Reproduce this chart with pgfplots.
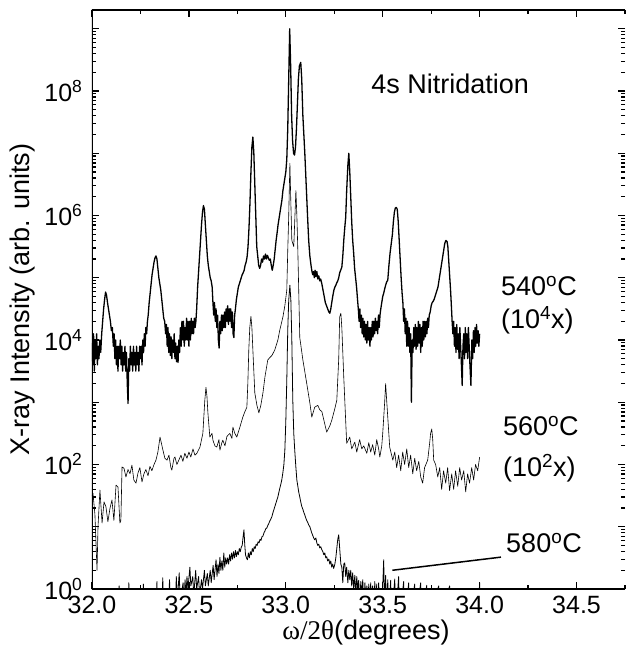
\documentclass[border=0pt]{standalone}
\usepackage{fontspec}
\setmainfont{Liberation Sans}
\newfontfamily\serifgr{Liberation Serif}
\usepackage{pgfplots}
\usepackage{pgfplotstable}
\pgfplotsset{compat=1.18}

% columns: x = omega/2theta (deg), L = log10(intensity)
\pgfplotstableread{
x L
32.000 3.95
32.004 3.6
32.008 4.1
32.012 3.5
32.016 4.0
32.020 3.7
32.024 4.1
32.028 3.6
32.032 3.9
32.036 3.7
32.040 4.0
32.045 3.8
32.050 4.1
32.055 4.3
32.060 4.5
32.065 4.65
32.070 4.77
32.075 4.72
32.080 4.6
32.085 4.5
32.090 4.4
32.095 4.3
32.100 4.15
32.105 4.2
32.110 3.9
32.114 4.1
32.118 3.7
32.122 4.0
32.126 3.6
32.130 3.9
32.134 3.5
32.138 3.9
32.142 3.7
32.146 4.0
32.150 3.6
32.154 3.9
32.158 3.5
32.162 3.8
32.166 3.6
32.170 3.9
32.174 3.5
32.178 3.8
32.182 3.3
32.186 2.98
32.190 3.7
32.194 3.5
32.198 3.9
32.202 3.6
32.206 3.8
32.210 3.5
32.214 3.9
32.218 3.6
32.222 3.8
32.226 3.5
32.230 3.9
32.234 3.6
32.238 3.8
32.242 3.5
32.246 3.9
32.250 3.7
32.254 3.9
32.258 3.6
32.262 4.0
32.266 3.8
32.270 4.1
32.274 3.9
32.278 4.2
32.282 4.1
32.286 4.3
32.290 4.4
32.295 4.6
32.300 4.75
32.305 4.9
32.310 5.05
32.315 5.15
32.320 5.25
32.325 5.32
32.330 5.35
32.335 5.3
32.340 5.15
32.345 5.0
32.350 4.9
32.355 4.8
32.360 4.65
32.365 4.5
32.370 4.35
32.375 4.3
32.380 4.1
32.384 4.25
32.388 3.9
32.392 4.2
32.396 3.8
32.400 4.1
32.404 3.75
32.408 4.05
32.412 3.7
32.416 4.0
32.420 3.8
32.424 4.1
32.428 3.7
32.432 3.95
32.436 3.65
32.440 3.9
32.444 3.64
32.448 4.0
32.452 3.8
32.456 4.2
32.460 3.9
32.464 4.3
32.468 4.0
32.472 4.3
32.476 3.9
32.480 4.2
32.484 4.0
32.488 4.35
32.492 4.0
32.496 4.3
32.500 3.9
32.504 4.3
32.508 4.0
32.512 4.35
32.516 4.1
32.520 4.3
32.524 4.1
32.528 4.35
32.532 4.2
32.536 4.3
32.540 4.5
32.545 4.85
32.550 5.1
32.555 5.35
32.560 5.6
32.565 5.85
32.570 6.05
32.575 6.16
32.580 6.1
32.585 5.85
32.590 5.6
32.595 5.35
32.600 5.2
32.605 5.1
32.610 5.0
32.615 4.95
32.620 4.85
32.624 4.6
32.628 4.4
32.632 4.6
32.636 4.3
32.640 4.5
32.644 4.2
32.648 4.4
32.652 4.0
32.656 3.87
32.660 4.3
32.664 4.1
32.668 4.4
32.672 4.15
32.676 4.4
32.680 4.2
32.684 4.45
32.688 4.2
32.692 4.5
32.696 4.3
32.700 4.55
32.704 4.25
32.708 4.5
32.712 4.3
32.716 4.5
32.720 4.2
32.724 4.45
32.728 4.1
32.732 4.04
32.736 4.4
32.740 4.5
32.745 4.65
32.750 4.75
32.755 4.85
32.760 4.9
32.765 4.95
32.770 5.0
32.775 5.05
32.780 5.08
32.785 5.12
32.790 5.2
32.795 5.25
32.800 5.33
32.805 5.5
32.810 5.8
32.815 6.2
32.820 6.7
32.825 7.1
32.830 7.26
32.835 7.0
32.840 6.5
32.845 6.0
32.850 5.5
32.855 5.35
32.860 5.2
32.865 5.15
32.870 5.2
32.875 5.3
32.880 5.25
32.885 5.35
32.890 5.3
32.895 5.38
32.900 5.3
32.905 5.36
32.910 5.32
32.915 5.28
32.920 5.3
32.925 5.2
32.930 5.12
32.935 5.2
32.940 5.3
32.945 5.45
32.950 5.6
32.955 5.72
32.960 5.85
32.965 5.95
32.970 6.05
32.975 6.15
32.980 6.25
32.985 6.4
32.990 6.5
32.995 6.6
33.000 6.7
33.005 6.9
33.010 7.4
33.015 8.2
33.020 9.0
33.025 8.4
33.030 7.6
33.035 7.2
33.040 7.0
33.045 6.97
33.050 7.1
33.055 7.4
33.060 7.8
33.065 8.2
33.070 8.4
33.077 8.46
33.082 8.2
33.088 7.6
33.093 7.3
33.098 7.0
33.105 6.5
33.112 6.0
33.118 5.6
33.124 5.35
33.130 5.2
33.135 5.1
33.139 5.05
33.143 5.1
33.147 5.0
33.151 5.12
33.155 5.02
33.160 5.1
33.165 4.98
33.170 5.03
33.175 4.95
33.180 4.98
33.186 4.9
33.192 4.8
33.198 4.7
33.204 4.6
33.210 4.55
33.216 4.5
33.222 4.45
33.227 4.43
33.232 4.5
33.237 4.6
33.242 4.7
33.248 4.8
33.253 4.85
33.258 4.88
33.263 4.92
33.268 4.95
33.273 5.0
33.278 5.08
33.283 5.12
33.289 5.17
33.294 5.35
33.299 5.6
33.304 5.8
33.309 5.97
33.314 6.4
33.320 6.8
33.325 7.0
33.330 6.7
33.335 6.3
33.340 5.9
33.345 5.6
33.350 5.4
33.355 5.15
33.360 5.0
33.365 4.85
33.370 4.65
33.374 4.5
33.378 4.3
33.382 4.5
33.386 4.2
33.390 4.4
33.394 4.1
33.398 4.35
33.402 4.05
33.406 4.3
33.410 4.0
33.414 4.25
33.418 3.95
33.422 4.3
33.426 4.0
33.430 4.2
33.434 3.9
33.438 4.2
33.442 4.0
33.446 4.3
33.450 4.05
33.454 4.3
33.458 4.1
33.462 4.35
33.466 4.15
33.470 4.3
33.474 4.1
33.478 4.4
33.482 4.2
33.486 4.4
33.490 4.5
33.495 4.6
33.500 4.7
33.505 4.75
33.510 4.82
33.515 4.88
33.520 4.93
33.526 4.96
33.532 5.2
33.538 5.4
33.544 5.55
33.550 5.7
33.555 5.9
33.560 6.05
33.565 6.12
33.570 6.13
33.575 6.1
33.580 5.9
33.585 5.6
33.590 5.3
33.595 5.0
33.600 4.75
33.604 4.6
33.608 4.3
33.612 4.5
33.616 4.1
33.620 4.35
33.624 3.9
33.628 4.3
33.632 3.9
33.636 4.2
33.640 3.8
33.644 4.1
33.648 3.0
33.652 4.0
33.656 3.8
33.660 4.2
33.664 3.9
33.668 4.25
33.672 3.85
33.676 4.2
33.680 3.9
33.684 4.3
33.688 3.95
33.692 4.25
33.696 3.8
33.700 4.2
33.704 3.9
33.708 4.3
33.712 4.0
33.716 4.3
33.720 4.05
33.724 4.3
33.728 4.1
33.732 4.35
33.736 4.2
33.740 4.4
33.745 4.45
33.750 4.55
33.755 4.6
33.760 4.62
33.765 4.65
33.770 4.7
33.775 4.75
33.780 4.8
33.785 4.85
33.790 4.95
33.795 5.05
33.800 5.15
33.805 5.25
33.810 5.35
33.815 5.45
33.820 5.55
33.826 5.6
33.832 5.58
33.836 5.5
33.840 5.3
33.845 5.05
33.850 4.8
33.855 4.5
33.858 4.3
33.862 4.1
33.866 4.3
33.870 3.9
33.874 4.2
33.878 3.8
33.882 4.25
33.886 3.85
33.890 4.1
33.894 3.7
33.898 4.2
33.902 3.9
33.906 3.6
33.910 3.27
33.914 3.9
33.918 4.1
33.922 3.7
33.926 4.2
33.930 3.8
33.934 4.1
33.938 3.7
33.942 4.2
33.946 3.9
33.950 3.6
33.955 3.27
33.960 4.0
33.964 3.7
33.968 4.15
33.972 3.8
33.976 4.2
33.980 3.9
33.984 4.25
33.988 3.95
33.992 4.15
33.996 3.9
34.000 4.1
}\datafivefourty

\pgfplotstableread{
x L
32.000 1.5
32.005 1.54
32.015 1.2
32.026 0.3
32.031 1.0
32.041 1.59
32.052 1.06
32.062 1.4
32.072 1.32
32.082 1.08
32.093 1.3
32.103 1.43
32.113 1.1
32.124 1.67
32.134 1.64
32.144 1.06
32.149 1.1
32.155 1.96
32.165 1.94
32.175 1.8
32.186 1.92
32.196 1.85
32.206 1.99
32.216 1.75
32.227 1.70
32.237 1.86
32.247 1.95
32.258 1.72
32.268 1.85
32.278 1.92
32.289 1.82
32.299 1.97
32.309 1.9
32.320 2.0
32.330 2.07
32.340 2.2
32.351 2.44
32.361 2.3
32.366 2.23
32.376 2.1
32.387 2.07
32.397 2.15
32.407 1.95
32.412 1.91
32.423 2.1
32.428 2.12
32.438 2.0
32.448 2.07
32.459 2.15
32.469 2.05
32.479 2.18
32.490 2.1
32.500 2.2
32.510 2.12
32.521 2.25
32.531 2.15
32.541 2.18
32.557 2.28
32.572 2.5
32.582 3.03
32.588 3.24
32.593 3.1
32.598 2.83
32.608 2.44
32.619 2.5
32.624 2.39
32.634 2.3
32.644 2.28
32.655 2.4
32.660 2.23
32.670 2.35
32.675 2.39
32.686 2.3
32.696 2.45
32.711 2.5
32.722 2.42
32.727 2.6
32.737 2.5
32.747 2.44
32.763 2.6
32.778 2.76
32.789 2.85
32.799 2.92
32.804 3.3
32.809 3.84
32.814 4.2
32.820 4.38
32.825 4.2
32.830 3.84
32.840 3.15
32.851 2.95
32.861 2.83
32.871 2.95
32.882 3.15
32.892 3.4
32.907 3.68
32.918 3.72
32.928 3.75
32.943 3.84
32.959 4.0
32.969 4.16
32.985 4.37
32.995 4.55
33.005 4.8
33.010 5.44
33.015 6.0
33.021 6.84
33.026 6.2
33.031 5.6
33.041 5.5
33.052 6.4
33.057 6.0
33.062 5.44
33.072 4.04
33.088 3.68
33.108 3.3
33.124 2.99
33.134 2.76
33.149 2.92
33.165 2.95
33.175 2.88
33.186 2.85
33.201 2.65
33.211 2.52
33.227 2.62
33.237 2.71
33.253 2.9
33.263 3.03
33.273 3.7
33.278 4.37
33.284 4.43
33.289 4.2
33.299 3.4
33.314 2.34
33.330 2.44
33.340 2.25
33.356 2.36
33.366 2.2
33.381 2.4
33.392 2.25
33.402 2.3
33.418 2.18
33.428 2.35
33.438 2.2
33.448 2.32
33.459 2.15
33.469 2.4
33.479 2.25
33.485 2.12
33.495 2.3
33.500 2.5
33.510 3.0
33.515 3.3
33.521 3.0
33.526 2.76
33.536 2.28
33.552 2.07
33.562 2.2
33.572 1.95
33.582 2.15
33.593 1.9
33.603 2.2
33.613 2.0
33.624 2.25
33.634 1.95
33.644 2.15
33.655 1.85
33.665 2.1
33.675 1.9
33.686 2.05
33.696 1.8
33.706 1.7
33.716 1.95
33.732 2.07
33.742 2.34
33.747 2.5
33.753 2.57
33.758 2.4
33.763 2.07
33.773 2.0
33.784 1.8
33.794 1.95
33.804 1.6
33.814 1.9
33.825 1.7
33.835 1.95
33.845 1.58
33.856 1.85
33.866 1.6
33.876 1.9
33.887 1.65
33.897 1.95
33.907 1.75
33.918 1.9
33.928 1.56
33.938 1.85
33.948 1.7
33.959 1.95
33.969 1.75
33.979 2.0
33.990 1.9
34.000 2.12
}\datafivesixty

\pgfplotstableread{
x L
32.000 -0.5
32.130 -0.5
32.140 0.05
32.145 -0.5
32.185 -0.5
32.190 0.1
32.195 -0.5
32.260 -0.5
32.265 0.08
32.270 -0.5
32.330 -0.5
32.335 0.12
32.340 -0.5
32.360 -0.5
32.365 0.18
32.370 -0.3
32.395 -0.3
32.400 0.15
32.405 -0.3
32.430 -0.3
32.435 0.2
32.440 -0.2
32.450 0.26
32.455 -0.2
32.470 0.1
32.475 -0.2
32.480 0.15
32.485 -0.1
32.490 0.2
32.495 0.0
32.505 0.35
32.510 0.05
32.520 0.2
32.525 -0.1
32.535 0.3
32.540 0.0
32.550 0.2
32.555 -0.1
32.565 0.15
32.570 0.0
32.580 0.3
32.585 0.05
32.595 0.25
32.600 0.05
32.610 0.3
32.615 0.1
32.625 0.38
32.630 0.15
32.640 0.47
32.645 0.2
32.650 0.4
32.655 0.25
32.660 0.51
32.665 0.3
32.670 0.45
32.675 0.3
32.680 0.58
32.685 0.35
32.690 0.5
32.695 0.4
32.700 0.5
32.705 0.4
32.710 0.55
32.715 0.45
32.720 0.58
32.725 0.48
32.730 0.6
32.735 0.5
32.740 0.62
32.745 0.52
32.750 0.6
32.755 0.55
32.760 0.65
32.765 0.6
32.770 0.67
32.775 0.7
32.780 0.85
32.784 0.95
32.788 0.72
32.792 0.55
32.797 0.5
32.802 0.47
32.807 0.58
32.812 0.5
32.817 0.6
32.822 0.55
32.827 0.65
32.832 0.6
32.837 0.68
32.842 0.65
32.847 0.72
32.852 0.7
32.857 0.76
32.862 0.74
32.867 0.8
32.872 0.78
32.877 0.84
32.882 0.85
32.887 0.9
32.892 0.93
32.897 0.97
32.902 0.98
32.907 1.02
32.912 1.05
32.917 1.09
32.922 1.12
32.928 1.16
32.933 1.22
32.938 1.27
32.943 1.32
32.948 1.37
32.953 1.42
32.959 1.48
32.964 1.55
32.969 1.62
32.974 1.68
32.979 1.75
32.984 1.85
32.990 2.0
32.995 2.23
33.000 2.7
33.005 3.35
33.010 4.16
33.015 4.64
33.021 4.88
33.026 4.64
33.031 4.0
33.036 3.03
33.041 2.5
33.046 2.23
33.052 1.95
33.057 1.75
33.062 1.65
33.067 1.55
33.072 1.48
33.077 1.4
33.082 1.33
33.088 1.28
33.093 1.23
33.098 1.19
33.103 1.14
33.108 1.1
33.113 1.07
33.118 1.03
33.124 1.0
33.129 0.95
33.134 0.9
33.139 0.86
33.144 0.82
33.149 0.79
33.155 0.82
33.160 0.74
33.165 0.7
33.170 0.72
33.175 0.66
33.180 0.68
33.186 0.63
33.191 0.6
33.196 0.55
33.201 0.58
33.206 0.5
33.211 0.52
33.216 0.45
33.222 0.48
33.227 0.4
33.232 0.45
33.237 0.35
33.242 0.4
33.247 0.33
33.253 0.4
33.258 0.5
33.263 0.65
33.268 0.8
33.273 0.87
33.278 0.65
33.284 0.4
33.289 0.35
33.294 0.1
33.299 0.4
33.304 0.42
33.309 0.2
33.314 0.35
33.320 0.1
33.325 0.3
33.330 0.15
33.335 0.3
33.340 0.05
33.345 0.26
33.350 0.0
33.356 0.22
33.361 -0.1
33.366 0.2
33.371 0.0
33.376 0.14
33.381 -0.2
33.387 0.12
33.392 -0.1
33.397 0.15
33.402 -0.3
33.408 0.1
33.413 -0.2
33.418 0.05
33.423 -0.3
33.428 0.08
33.433 -0.3
33.438 0.1
33.443 -0.3
33.448 0.05
33.454 -0.4
33.459 0.12
33.464 -0.3
33.469 0.08
33.474 -0.4
33.479 0.1
33.485 -0.3
33.490 -0.3
33.500 0.05
33.505 0.47
33.510 -0.3
33.515 0.22
33.520 -0.4
33.526 0.15
33.531 -0.4
33.541 0.14
33.546 -0.5
33.562 0.16
33.567 -0.5
33.582 0.2
33.587 -0.5
33.608 0.12
33.613 -0.5
33.634 0.1
33.639 -0.5
33.665 0.08
33.670 -0.5
33.696 0.1
33.701 -0.5
33.727 0.06
33.732 -0.5
33.789 0.05
33.794 -0.5
33.845 0.05
33.850 -0.5
33.990 -0.5
34.000 0.1
34.005 -0.5
}\datafiveeighty

\begin{document}
\begin{tikzpicture}
\useasboundingbox (-92pt,-65pt) rectangle (541pt,589pt);
\begin{axis}[
  at={(0pt,0pt)}, anchor=south west,
  scale only axis, width=533pt, height=579pt,
  xmin=32, xmax=34.75,
  ymode=log, ymin=1, ymax=2e9,
  axis line style={draw=none},
  tick align=inside,
  xtick={32,32.5,33,33.5,34,34.5},
  xticklabels={32.0,32.5,33.0,33.5,34.0,34.5},
  minor xtick={32.25,32.75,33.25,33.75,34.25,34.75},
  ytick={1,1e1,1e2,1e3,1e4,1e5,1e6,1e7,1e8,1e9},
  yticklabels={10\textsuperscript{0},,10\textsuperscript{2},,10\textsuperscript{4},,10\textsuperscript{6},,10\textsuperscript{8},},
  minor ytick={2,3,4,5,6,7,8,9,20,30,40,50,60,70,80,90,200,300,400,500,600,700,800,900,2e3,3e3,4e3,5e3,6e3,7e3,8e3,9e3,2e4,3e4,4e4,5e4,6e4,7e4,8e4,9e4,2e5,3e5,4e5,5e5,6e5,7e5,8e5,9e5,2e6,3e6,4e6,5e6,6e6,7e6,8e6,9e6,2e7,3e7,4e7,5e7,6e7,7e7,8e7,9e7,2e8,3e8,4e8,5e8,6e8,7e8,8e8,9e8},
  major tick length=7pt, minor tick length=4pt,
  every tick/.style={black, line width=1.3pt},
  tick label style={font=\fontsize{25}{30}\selectfont},
  yticklabel style={xshift=-6pt},
  xticklabel style={yshift=-4pt},
  xlabel={{\serifgr ω/2θ}(degrees)},
  ylabel={X-ray Intensity (arb. units)},
  label style={font=\fontsize{27}{32}\selectfont},
  xlabel style={at={(axis description cs:0.514,-0.088)}, anchor=base},
  ylabel style={at={(axis description cs:-0.131,0.5)}, anchor=center},
]
\addplot[black, line width=1.3pt, line join=round] table[x=x, y expr=10^\thisrow{L}] {\datafivefourty};
\addplot[black, line width=0.6pt, line join=round] table[x=x, y expr=10^\thisrow{L}] {\datafivesixty};
\addplot[black, line width=0.8pt, line join=round] table[x=x, y expr=10^\thisrow{L}] {\datafiveeighty};
\draw[line width=1.8pt] (rel axis cs:1,1) -- (rel axis cs:0,1) -- (rel axis cs:0,0) -- (rel axis cs:1,0);
\draw[line width=1.5pt] (axis cs:33.55,2.0) -- (axis cs:34.11,3.25);
\node[anchor=base west, font=\fontsize{27}{32}\selectfont] at (axis cs:33.423,9.1e7) {4s Nitridation};
\node[anchor=base west, font=\fontsize{27}{32}\selectfont] at (axis cs:34.093,5.2e4) {540\textsuperscript{o}C};
\node[anchor=base west, font=\fontsize{27}{32}\selectfont] at (axis cs:34.093,1.55e4) {(10\textsuperscript{4}x)};
\node[anchor=base west, font=\fontsize{27}{32}\selectfont] at (axis cs:34.103,295) {560\textsuperscript{o}C};
\node[anchor=base west, font=\fontsize{27}{32}\selectfont] at (axis cs:34.103,65) {(10\textsuperscript{2}x)};
\node[anchor=base west, font=\fontsize{27}{32}\selectfont] at (axis cs:34.119,3.8) {580\textsuperscript{o}C};
\end{axis}
\end{tikzpicture}
\end{document}
